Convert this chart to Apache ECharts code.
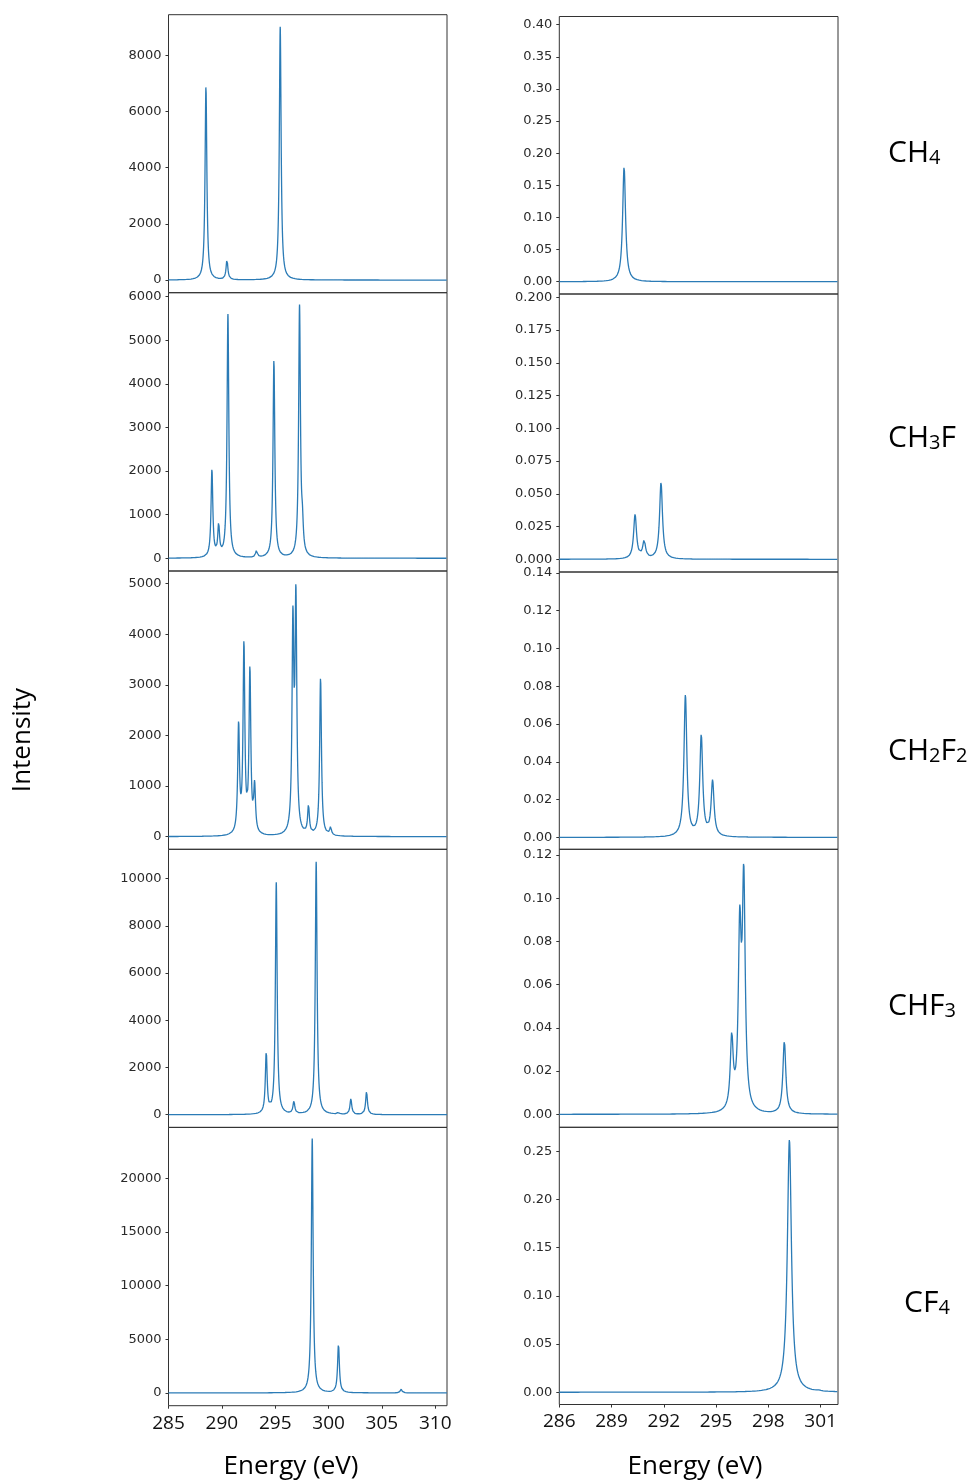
<!DOCTYPE html>
<html>
<head>
<meta charset="utf-8">
<title>C 1s spectra</title>
<script src="https://cdn.jsdelivr.net/npm/echarts@6/dist/echarts.min.js"></script>
<style>
html, body { margin: 0; padding: 0; background: #fff; }
#chart { width: 977px; height: 1481px; }
</style>
</head>
<body>
<div id="chart"></div>
<script>
// energy axes (eV)
const leftEnergyTicks = [285, 290, 295, 300, 305, 310];
const rightEnergyTicks = [286, 289, 292, 295, 298, 301];

// peak positions (eV) and apex heights
const ch4LeftPos = [288.51, 290.48, 295.47];
const ch4LeftTop = [6930, 740, 9020];
const ch3fLeftPos = [289.07, 289.70, 290.57, 293.25, 294.88, 297.28, 297.55];
const ch3fLeftTop = [2050, 830, 5600, 185, 4570, 5820, 1250];
const ch2f2LeftPos = [291.57, 292.07, 292.63, 293.07, 296.66, 296.94, 298.12, 299.25, 300.19];
const ch2f2LeftTop = [2300, 3900, 3390, 1120, 4570, 5000, 640, 3150, 200];
const chf3LeftPos = [294.16, 295.10, 296.75, 298.84, 300.93, 302.09, 303.56];
const chf3LeftTop = [2710, 9850, 590, 10720, 120, 680, 990];
const cf4LeftPos = [298.47, 300.93, 306.80];
const cf4LeftTop = [23720, 4590, 350];

// right spectra
const ch4RightPos = [289.72];
const ch4RightTop = [0.179];
const ch3fRightPos = [290.35, 290.87, 291.84];
const ch3fRightTop = [0.0344, 0.0148, 0.0588];
const ch2f2RightPos = [293.24, 294.15, 294.80];
const ch2f2RightTop = [0.0755, 0.0548, 0.0306];
const chf3RightPos = [295.90, 296.36, 296.59, 298.92];
const chf3RightTop = [0.0383, 0.0966, 0.1166, 0.0341];
const cf4RightPos = [299.21, 300.92];
const cf4RightTop = [0.262, 0.0024];

// y tick labels
const ch4LeftTicks = [0, 2000, 4000, 6000, 8000];
const ch3fLeftTicks = [0, 1000, 2000, 3000, 4000, 5000, 6000];
const ch2f2LeftTicks = [0, 1000, 2000, 3000, 4000, 5000];
const chf3LeftTicks = [0, 2000, 4000, 6000, 8000, 10000];
const cf4LeftTicks = [0, 5000, 10000, 15000, 20000];
const ch4RightTicks = [0, 0.05, 0.10, 0.15, 0.20, 0.25, 0.30, 0.35, 0.40];
const ch3fRightTicks = [0, 0.025, 0.05, 0.075, 0.10, 0.125, 0.15, 0.175, 0.20];
const ch2f2RightTicks = [0, 0.02, 0.04, 0.06, 0.08, 0.10, 0.12, 0.14];
const chf3RightTicks = [0, 0.02, 0.04, 0.06, 0.08, 0.10, 0.12];
const cf4RightTicks = [0, 0.05, 0.10, 0.15, 0.20, 0.25];

const molecules = ['{m|CH}{s|4}', '{m|CH}{s|3}{m|F}', '{m|CH}{s|2}{m|F}{s|2}', '{m|CHF}{s|3}', '{m|CF}{s|4}'];

const lineColor = '#2b7bb6';

// amplitudes so that the summed curve meets the read apex heights
function solveAmplitudes(pos, top, g) {
	const n = pos.length;
	const a = pos.map((xi, i) => pos.map(xj => g * g / ((xi - xj) * (xi - xj) + g * g)).concat([top[i]]));
	for (let c = 0; c < n; c++) {
		let p = c;
		for (let r = c + 1; r < n; r++) if (Math.abs(a[r][c]) > Math.abs(a[p][c])) p = r;
		[a[c], a[p]] = [a[p], a[c]];
		for (let r = 0; r < n; r++) {
			if (r === c) continue;
			const f = a[r][c] / a[c][c];
			for (let k = c; k <= n; k++) a[r][k] -= f * a[c][k];
		}
	}
	return a.map((row, i) => row[n] / row[i]);
}

function spectrum(pos, top, g, from, to, step) {
	const amp = solveAmplitudes(pos, top, g);
	const pts = [];
	const n = Math.round((to - from) / step);
	for (let i = 0; i <= n; i++) {
		const e = from + i * step;
		let y = 0;
		for (let j = 0; j < pos.length; j++) {
			const d = e - pos[j];
			y += amp[j] * g * g / (d * d + g * g);
		}
		pts.push([e, y]);
	}
	return pts;
}

// g = lorentzian half width (eV)
const panels = [
	{ col: 0, row: 0, pos: ch4LeftPos, top: ch4LeftTop, ticks: ch4LeftTicks, min: -450, max: 9450, dec: 0, g: 0.1 },
	{ col: 0, row: 1, pos: ch3fLeftPos, top: ch3fLeftTop, ticks: ch3fLeftTicks, min: -292, max: 6092, dec: 0, g: 0.1 },
	{ col: 0, row: 2, pos: ch2f2LeftPos, top: ch2f2LeftTop, ticks: ch2f2LeftTicks, min: -250, max: 5250, dec: 0, g: 0.1 },
	{ col: 0, row: 3, pos: chf3LeftPos, top: chf3LeftTop, ticks: chf3LeftTicks, min: -537, max: 11244, dec: 0, g: 0.1 },
	{ col: 0, row: 4, pos: cf4LeftPos, top: cf4LeftTop, ticks: cf4LeftTicks, min: -1190, max: 24750, dec: 0, g: 0.1 },
	{ col: 1, row: 0, pos: ch4RightPos, top: ch4RightTop, ticks: ch4RightTicks, min: -0.0191, max: 0.4128, dec: 2, g: 0.1 },
	{ col: 1, row: 1, pos: ch3fRightPos, top: ch3fRightTop, ticks: ch3fRightTicks, min: -0.0097, max: 0.2025, dec: 3, g: 0.1 },
	{ col: 1, row: 2, pos: ch2f2RightPos, top: ch2f2RightTop, ticks: ch2f2RightTicks, min: -0.0063, max: 0.1404, dec: 2, g: 0.1 },
	{ col: 1, row: 3, pos: chf3RightPos, top: chf3RightTop, ticks: chf3RightTicks, min: -0.0060, max: 0.1226, dec: 2, g: 0.1 },
	{ col: 1, row: 4, pos: cf4RightPos, top: cf4RightTop, ticks: cf4RightTicks, min: -0.0127, max: 0.2749, dec: 2, g: 0.14 }
];

// frame layout
const colLeft = [168.5, 559.3];
const colWidth = [278.5, 278.7];
const rowEdges = [
	[14.7, 292.7, 571, 849.3, 1127.4, 1405.7],
	[16.5, 294, 572, 849.3, 1127.3, 1404.5]
];
const xRange = [[285, 311.1], [286, 302]];
const xStep = [0.01, 0.005];
const xTicks = [leftEnergyTicks, rightEnergyTicks];

const grid = [], xAxis = [], yAxis = [], series = [];

panels.forEach((p, i) => {
	const edges = rowEdges[p.col];
	const bottomRow = p.row === 4;
	grid.push({
		left: colLeft[p.col],
		top: edges[p.row],
		width: colWidth[p.col],
		height: edges[p.row + 1] - edges[p.row],
		show: true,
		borderColor: '#333',
		borderWidth: 1,
		backgroundColor: 'transparent'
	});
	xAxis.push({
		type: 'value',
		gridIndex: i,
		min: xRange[p.col][0],
		max: xRange[p.col][1],
		axisLine: { show: false, onZero: false },
		splitLine: { show: false },
		axisTick: { show: bottomRow, length: 3, lineStyle: { color: '#333' }, customValues: xTicks[p.col] },
		axisLabel: {
			show: bottomRow,
			customValues: xTicks[p.col],
			margin: 8,
			fontFamily: 'Open Sans',
			fontSize: 19,
			color: '#111'
		}
	});
	yAxis.push({
		type: 'value',
		gridIndex: i,
		min: p.min,
		max: p.max,
		axisLine: { show: false },
		splitLine: { show: false },
		axisTick: { show: true, length: 3, lineStyle: { color: '#333' }, customValues: p.ticks },
		axisLabel: {
			customValues: p.ticks,
			margin: 7,
			fontFamily: 'DejaVu Sans',
			fontSize: 13,
			color: '#2a2a2a',
			formatter: v => v.toFixed(p.dec)
		}
	});
	series.push({
		type: 'line',
		xAxisIndex: i,
		yAxisIndex: i,
		data: spectrum(p.pos, p.top, p.g, xRange[p.col][0], xRange[p.col][1], xStep[p.col]),
		showSymbol: false,
		symbol: 'none',
		silent: true,
		lineStyle: { color: lineColor, width: 1.3 }
	});
});

const labelRich = {
	m: { fontFamily: 'Open Sans', fontSize: 30, color: '#000', verticalAlign: 'bottom' },
	s: { fontFamily: 'Open Sans', fontSize: 20, color: '#000', verticalAlign: 'bottom' }
};
const labelX = [888, 888, 888, 888, 904];
const labelY = [153, 438, 751, 1006, 1303];

const graphic = [
	{
		type: 'text', x: 23, y: 740, rotation: Math.PI / 2,
		style: { text: 'Intensity', font: '26px "Open Sans"', fill: '#000', align: 'center', verticalAlign: 'middle', textAlign: 'center', textVerticalAlign: 'middle' }
	},
	{
		type: 'text', x: 291, y: 1467,
		style: { text: 'Energy (eV)', font: '26px "Open Sans"', fill: '#000', align: 'center', verticalAlign: 'middle', textAlign: 'center', textVerticalAlign: 'middle' }
	},
	{
		type: 'text', x: 695, y: 1467,
		style: { text: 'Energy (eV)', font: '26px "Open Sans"', fill: '#000', align: 'center', verticalAlign: 'middle', textAlign: 'center', textVerticalAlign: 'middle' }
	}
].concat(molecules.map((m, i) => ({
	type: 'text', x: labelX[i], y: labelY[i],
	style: { text: m, rich: labelRich, align: 'left', verticalAlign: 'middle', textAlign: 'left', textVerticalAlign: 'middle' }
})));

const chart = echarts.init(document.getElementById('chart'), null, { renderer: 'canvas' });
chart.setOption({
	animation: false,
	backgroundColor: '#fff',
	grid,
	xAxis,
	yAxis,
	series,
	graphic
});
</script>
</body>
</html>
